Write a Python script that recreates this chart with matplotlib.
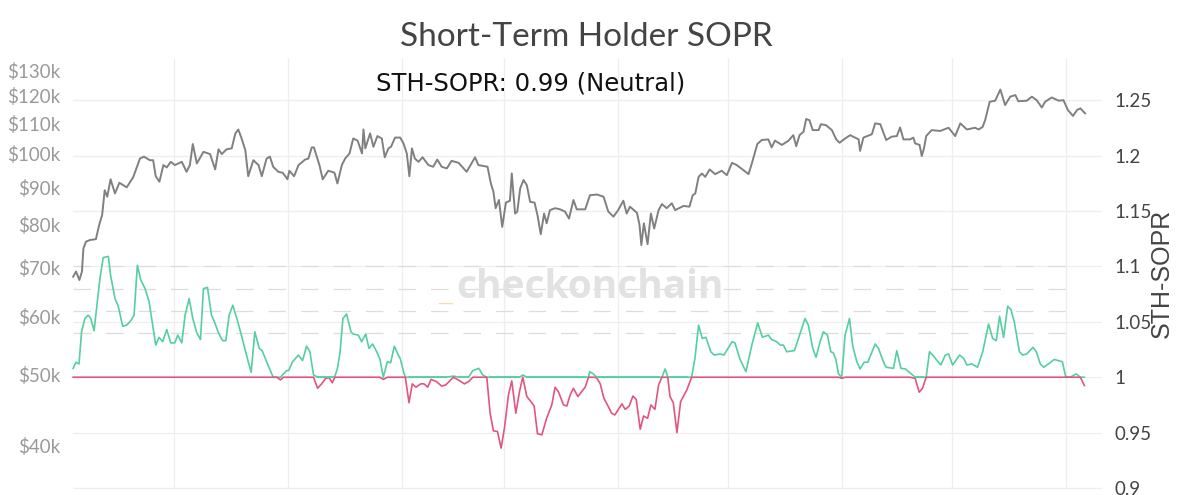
import numpy as np
from matplotlib import pyplot as plt

plt.rcParams['font.family'] = ['Lato', 'DejaVu Sans']

# days since 2024-11-03, price in $k
price_days = [0.5, 1.3, 2.2, 2.9, 3.3, 4, 5.1, 6.7, 7.6, 8.4, 9.1, 9.8, 10.7, 11.9, 13.1, 15.1, 16.9, 18.7,
              19.8, 21.4, 22.3, 23, 24, 25.1, 26, 27.1, 28.2, 30.1, 31.4, 32.3, 33.1, 34.2, 36, 37.8, 39.2,
              40.1, 41, 42.3, 43.7, 44.7, 45.5, 46.4, 47.4, 48.2, 49.6, 51, 51.9, 53.2, 54.1, 55, 56.4, 57.6,
              58.9, 59.4, 60.7, 61.9, 63.7, 64.6, 65.5, 66.1, 67.6, 68.5, 70, 71, 71.7, 72.5, 73.7, 74.6, 75.8,
              76.8, 78, 79.2, 79.6, 80.1, 81.4, 82.3, 83.4, 84.6, 85.4, 86.4, 87.1, 88.2, 89.6, 90.5, 91.4, 92.1,
              92.8, 93.6, 94.6, 95.7, 97.3, 98.6, 99.7, 100.9, 102.3, 103.6, 105.5, 107.7, 110, 110.9, 113.4,
              114.3, 115, 115.6, 116.5, 117.4, 118.4, 119.5, 120, 120.9, 121.5, 122.3, 123.2, 124.1, 125, 126.2,
              127, 127.9, 128.8, 129.5, 130.4, 131.8, 133.2, 134.5, 135.6, 136.8, 137.7, 140, 141.3, 143.2, 145,
              146.3, 147.7, 149, 150.4, 151.3, 152.2, 154.1, 154.8, 155.3, 156, 157, 157.9, 158.8, 160, 160.9,
              162.2, 163.6, 164.5, 166.8, 168.4, 169.3, 170, 170.9, 171.8, 172.7, 173.9, 175.4, 177.2, 178.6,
              180, 181.3, 183.1, 184.5, 185.4, 186.9, 188.1, 189.9, 190.8, 191.7, 193.6, 195.4, 196.7, 197.5,
              198.4, 199.5, 200.2, 201.1, 202, 203.6, 204.2, 205.6, 207.2, 208.4, 209.3, 210.8, 212.2, 214.5,
              214.9, 215.8, 218.1, 219, 220.4, 222, 223.5, 224.9, 225.8, 226.7, 228.5, 229.4, 229.9, 231.1,
              231.7, 232.3, 232.9, 234.4, 236.7, 239, 240.8, 242.2, 244, 246.2, 247.2, 248.3, 249, 250.2, 251.7,
              253.1, 254.4, 255.8, 257.2, 258, 260.3, 261.7, 263, 264.4, 265.3, 267.1, 269, 270.3, 271.5, 272.9,
              274, 274.9, 276.2]
price = [68.0, 69.1, 67.3, 69.1, 74.3, 75.9, 76.3, 76.5, 80.0, 82.5, 89.2, 87.4, 92.3, 88.3, 91.3, 90.0, 93.0, 98.5,
         99.1, 98.0, 98.0, 93.2, 91.6, 96.5, 95.8, 97.5, 96.5, 97.5, 94.5, 96.5, 103.1, 97.0, 100.6, 99.9, 95.2,
         101.4, 99.9, 101.4, 101.7, 106.6, 107.9, 104.9, 101.2, 93.2, 98.0, 96.5, 93.2, 98.5, 99.1, 96.0, 94.5, 94.2,
         92.3, 94.8, 93.2, 96.5, 98.2, 98.5, 102.0, 102.0, 96.5, 92.3, 94.8, 94.5, 94.2, 91.1, 96.5, 98.5, 100.1,
         104.9, 104.2, 100.1, 107.9, 101.7, 106.6, 102.2, 105.7, 104.9, 98.9, 101.7, 102.2, 105.2, 105.2, 103.3, 100.1, 93.2,
         101.7, 98.5, 97.5, 98.9, 96.5, 96.0, 98.2, 96.0, 95.5, 97.8, 97.2, 94.5, 98.9, 96.5, 96.0,
         91.1, 88.8, 84.3, 86.5, 79.5, 85.8, 86.3, 94.0, 82.9, 83.4, 89.7, 92.1, 90.6, 86.0, 85.8,
         82.5, 77.7, 82.9, 80.4, 83.8, 84.3, 84.0, 83.4, 81.6, 86.5, 84.0, 84.0, 87.8, 88.0, 87.4,
         83.4, 82.1, 83.8, 86.3, 82.9, 84.7, 83.1, 80.0, 75.1, 80.4, 75.3, 82.9, 79.1, 83.8, 85.4,
         84.3, 85.6, 83.8, 84.9, 84.7, 87.8, 88.3, 93.0, 94.0, 93.0, 95.2, 93.8, 94.8, 93.5,
         97.2, 96.5, 95.0, 93.8, 97.0, 103.1, 104.4, 104.6, 102.0, 104.2, 102.8, 104.2, 106.0, 102.4,
         106.0, 107.2, 111.5, 111.1, 107.7, 107.7, 109.7, 109.4, 107.7, 104.6, 103.5, 104.9, 106.0, 104.6,
         100.9, 105.2, 106.3, 110.0, 109.7, 104.4, 105.5, 105.7, 108.6, 104.6, 104.6, 105.2, 103.3, 102.8,
         99.3, 101.7, 105.7, 107.7, 107.4, 108.5, 105.7, 110.0, 107.9, 108.5, 107.9, 108.8, 111.3, 117.7, 118.1,
         122.3, 116.5, 119.6, 120.2, 117.9, 118.1, 119.6, 118.3, 115.6, 117.7, 119.3, 118.1, 118.3, 114.7, 112.6,
         114.7, 115.3, 113.5]

sopr_days = [0.5, 1.3, 2.1, 2.8, 3.7, 4.6, 5.3, 6.2, 7.1, 7.8, 8.7, 10.1, 10.7, 11.9, 12.8, 14, 15.1, 16.2, 17.1, 18,
             18.9, 20.1, 21.2, 21.9, 23, 23.9, 24.9, 26, 27.1, 28.2, 29, 30.1, 31, 32.1, 33.1, 34.2, 35.2, 36, 37.1,
             38.2, 39, 40.1, 41.2, 42.1, 43, 44, 45.1, 46.1, 47.1, 48.2, 49, 50, 51.2, 52, 53.2, 54.1, 55, 56, 57,
             57.8, 58.7, 59.2, 60.3, 61.9, 63, 64.1, 65, 66, 67.1, 68.2, 69.3, 70.2, 71.1, 71.8, 72.5, 73.2, 74, 75,
             76.2, 76.8, 78.2, 79.1, 80.2, 81.1, 82.1, 83.2, 84.1, 85, 86.1, 87, 88, 89.1, 89.6, 90.6, 91, 92, 92.9,
             93.9, 95.2, 96.1, 97.1, 98, 99.5, 100.9, 102, 104.1, 105.7, 107.1, 108.2, 109.4, 111, 112.1, 113.2,
             114.1, 115, 116.1, 117.1, 118, 119.1, 120, 121.1, 122.1, 123, 124.1, 125.2, 126.1, 127, 128.2, 129.5,
             130.9, 131.8, 132.7, 134.1, 135, 135.9, 136.8, 138, 140, 140.9, 141.2, 142.2, 143.1, 144.1, 145.1,
             146.3, 147.2, 148.1, 150, 150.9, 152, 153, 153.9, 155, 155.9, 157, 157.9, 159, 160, 160.9, 161.8,
             162.5, 163.1, 164, 165, 166, 167.7, 169, 169.9, 170.9, 171.9, 172.9, 174.2, 175.2, 176.8, 177.8, 180,
             180.8, 182.2, 183.8, 185.4, 187, 188.3, 189.9, 190.8, 192.2, 193.1, 194, 194.9, 197, 198.6, 199.9,
             200.8, 202, 202.9, 204, 204.9, 206, 206.9, 207.6, 208.3, 209, 209.9, 210.8, 212, 212.9, 214, 214.9,
             216, 217, 219, 219.9, 221.3, 222, 224, 224.9, 226, 227.2, 228.5, 229.9, 231, 231.9, 232.9, 233.8,
             234.9, 236.9, 238.1, 239, 240.1, 242, 243.1, 244, 245.3, 246.9, 248.3, 249.9, 251, 252, 252.9, 254,
             255.1, 256, 256.9, 258.3, 259.2, 260.3, 262, 262.9, 264, 264.9, 266.2, 267.8, 270, 270.9, 272.1, 273.8,
             274.9, 276]
sopr = [1.008, 1.0135, 1.012, 1.041, 1.053, 1.056, 1.053, 1.042, 1.068, 1.089, 1.108, 1.109, 1.092, 1.071, 1.064, 1.046,
        1.047, 1.051, 1.056, 1.101, 1.088, 1.080, 1.068, 1.053, 1.029, 1.036, 1.032, 1.043, 1.031, 1.031, 1.038, 1.031,
        1.056, 1.071, 1.053, 1.040, 1.034, 1.080, 1.081, 1.056, 1.050, 1.040, 1.033, 1.033, 1.056, 1.065, 1.053, 1.041,
        1.028, 1.014, 1.0045, 1.041, 1.026, 1.024, 1.014, 1.007, 1.000, 1.000, 0.9976, 1.003, 1.006, 1.006, 1.014, 1.020,
        1.015, 1.028, 1.023, 1.002, 0.990, 0.994, 0.999, 0.9997, 0.995, 1.0006, 1.008, 1.022, 1.053, 1.057, 1.041, 1.039,
        1.038, 1.032, 1.039, 1.026, 1.030, 1.023, 1.016, 0.998, 1.014, 1.013, 1.028, 1.020, 1.017, 1.004, 1.000, 0.977,
        0.994, 0.991, 0.994, 0.994, 0.991, 0.998, 0.996, 0.992, 0.993, 1.001, 0.997, 0.994, 0.996, 1.006, 1.008, 1.002,
        1.000, 0.9675, 0.9516, 0.951, 0.936, 0.954, 0.984, 0.9967, 0.9675, 0.987, 1.002, 0.9826, 0.978, 0.974, 0.949,
        0.948, 0.963, 0.975, 0.991, 0.987, 0.975, 0.974, 0.984, 0.990, 0.9826, 0.991, 1.000, 1.005, 1.003, 0.9997, 0.994,
        0.981, 0.9735, 0.9675, 0.966, 0.976, 0.971, 0.974, 0.983, 0.980, 0.953, 0.965, 0.963, 0.975, 0.971, 0.993, 1.000,
        1.0075, 1.000, 0.9826, 0.977, 0.950, 0.978, 0.9886, 1.000, 1.017, 1.047, 1.035, 1.036, 1.023, 1.020, 1.021, 1.020,
        1.032, 1.031, 1.016, 1.005, 1.029, 1.049, 1.036, 1.038, 1.034, 1.032, 1.029, 1.029, 1.023, 1.024, 1.040, 1.053,
        1.047, 1.026, 1.018, 1.032, 1.041, 1.038, 1.023, 1.022, 1.016, 1.003, 0.999, 1.038, 1.053, 1.028, 1.014, 1.0075,
        1.0135, 1.0135, 1.030, 1.026, 1.0135, 1.009, 1.008, 1.024, 1.008, 1.0075, 1.004, 0.999, 0.9865, 0.990, 1.000, 1.023,
        1.019, 1.011, 1.020, 1.021, 1.011, 1.020, 1.017, 1.011, 1.012, 1.009, 1.023, 1.048, 1.035, 1.033, 1.055, 1.036,
        1.064, 1.061, 1.050, 1.023, 1.020, 1.021, 1.027, 1.023, 1.012, 1.009, 1.012, 1.016, 1.014, 1.0006, 1.000, 1.003,
        1.000, 0.9925]

month_days = [28, 59, 90, 118, 149, 179, 210, 240, 271]  # 1st of Dec .. Aug
sopr_ticks = [0.9, 0.95, 1, 1.05, 1.1, 1.15, 1.2, 1.25]
sopr_labels = ['0.9', '0.95', '1', '1.05', '1.1', '1.15', '1.2', '1.25']
band_levels = [1.04, 1.06, 1.08, 1.1]
price_ticks = [40, 50, 60, 70, 80, 90, 100, 110, 120, 130]

sopr_days = np.array(sopr_days)
sopr = np.array(sopr)

W, H = 1200, 495
fig = plt.figure(figsize=(W/100, H/100), dpi=100)
ax = fig.add_axes([71.3/W, (H-494)/H, (1102-71.3)/W, (494-55)/H])
ax.set_xlim(0, 280.8)
ax.set_ylim(0.8946, 1.2908)
for s in ax.spines.values():
    s.set_visible(False)

# grid
ax.hlines(sopr_ticks, 0.5, 280.8, color='#eeeeee', lw=0.9, zorder=1)
ax.vlines(month_days, 0.9, 1.288, color='#eeeeee', lw=0.9, zorder=1)
ax.hlines(band_levels, 0.5, 274.5, color='#dddddd', lw=0.9,
          linestyles=(0, (14, 12)), zorder=1)

ax.set_xticks([])

# sopr split around 1
ax.plot(sopr_days, np.maximum(sopr, 1), color='#55cf9f', lw=1.2, zorder=3)
ax.plot(sopr_days, np.minimum(sopr, 1), color='#e2557f', lw=1.2, zorder=4)
ax.plot(sopr_days, np.where(sopr < 1, 1.0, np.nan), color='#55cf9f', lw=1.2, zorder=5)

# price on log axis, labels on the left
axp = ax.twinx()
axp.set_yscale('log')
axp.set_ylim(34.4, 136.3)
axp.set_xlim(0, 280.8)
for s in axp.spines.values():
    s.set_visible(False)
axp.plot(price_days, price, color='#808080', lw=1.4, zorder=3)
axp.yaxis.tick_left()
axp.set_yticks(price_ticks)
axp.set_yticklabels(['$%dk' % p for p in price_ticks])
axp.minorticks_off()
axp.tick_params(axis='y', length=0, pad=8, labelsize=13.5, labelcolor='#9a9a9a')

# twinx moves the first axis' ticks, so set the right side here
ax.yaxis.tick_right()
ax.set_yticks(sopr_ticks)
ax.set_yticklabels(sopr_labels)
ax.tick_params(axis='y', length=0, pad=9, labelsize=13.5, labelcolor='#444444')

fig.text(586/W, 1-37/H, 'Short-Term Holder SOPR', ha='center', va='center',
         fontsize=24, color='#444444')
fig.text(531/W, 1-84/H, 'STH-SOPR: 0.99 (Neutral)', ha='center', va='center',
         fontsize=17.5, color='#111111', family='DejaVu Sans')
fig.text(1162/W, 1-273/H, 'STH-SOPR', ha='center', va='center', rotation=90,
         fontsize=18, color='#444444', family='Liberation Sans')

# watermark
fig.text(590/W, 1-287/H, 'checkonchain', ha='center', va='center', fontsize=28,
         fontweight='bold', color='#e2e2e2', family='Open Sans')
fig.text(446/W, 1-296/H, '__', ha='center', va='center', fontsize=11,
         color='#f6dcb0', family='DejaVu Sans')

plt.savefig('out.png', dpi=100)
